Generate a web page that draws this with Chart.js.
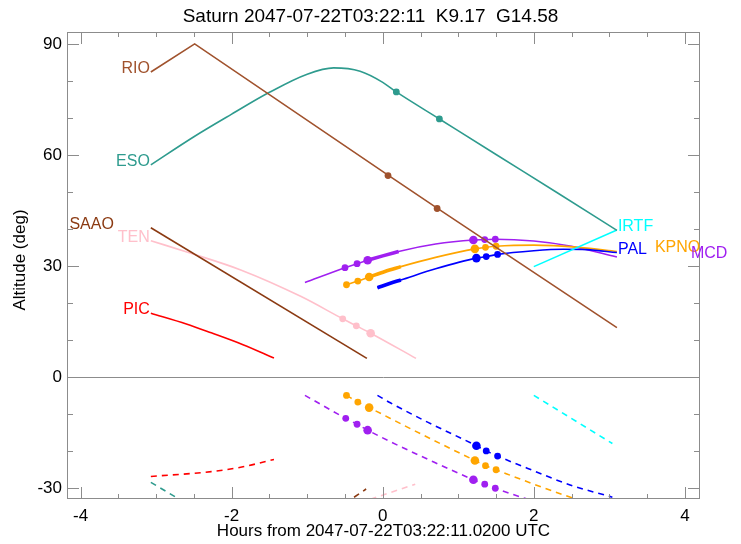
<!DOCTYPE html>
<html>
<head>
<meta charset="utf-8">
<script src="https://cdn.jsdelivr.net/npm/chart.js@4.4.1/dist/chart.umd.min.js"></script>
<style>
  body { margin: 0; background: #fff; }
</style>
</head>
<body>
<canvas id="chart" width="741" height="544"></canvas>
<script>
const titleText = "Saturn 2047-07-22T03:22:11  K9.17  G14.58";
const xTitle = "Hours from 2047-07-22T03:22:11.0200 UTC";
const yTitle = "Altitude (deg)";
const xTickValues = [-4, -2, 0, 2, 4];
const yTickValues = [-30, 0, 30, 60, 90];

// object altitude (solid), sun altitude (dashed), twilight markers
const rioHours = [-3.07, -2.49, 0.07, 0.72, 3.1];
const rioAlt = [82.4, 90.0, 54.5, 45.6, 13.3];
const rioMarkHours = [0.07, 0.72];
const rioMarkAlt = [54.4, 45.5];

const esoHours = [-3.07, -2.5, -2.0, -1.5, -1.0, -0.65, -0.3, 0.0, 0.18, 0.75, 1.5, 2.3, 3.1];
const esoAlt = [57.3, 64.9, 71.0, 76.9, 81.8, 83.5, 82.6, 79.6, 77.0, 69.7, 60.1, 49.9, 39.6];
const esoMarkHours = [0.18, 0.75];
const esoMarkAlt = [77.0, 69.7];
const esoSunHours = [-3.07, -2.6];
const esoSunAlt = [-28.5, -34.2];

const saaoHours = [-3.07, -0.21];
const saaoAlt = [40.3, 5.0];
const saaoSunHours = [-0.5, -0.22];
const saaoSunAlt = [-34.2, -30.3];

const tenHours = [-3.07, -2.54, -1.88, -1.08, -0.53, -0.35, -0.16, 0.44];
const tenAlt = [36.8, 33.4, 28.9, 21.7, 15.7, 13.8, 11.8, 5.0];
const tenMarkHours = [-0.53, -0.35, -0.16];
const tenMarkAlt = [15.7, 13.8, 11.8];
const tenSunHours = [-0.3, 0.43];
const tenSunAlt = [-34.0, -29.0];

const picHours = [-3.07, -2.6, -2.27, -1.85, -1.44];
const picAlt = [17.2, 14.3, 11.9, 8.7, 5.1];
const picSunHours = [-3.07, -2.27, -1.85, -1.44];
const picSunAlt = [-26.9, -25.6, -24.3, -22.3];

const mcdHours = [-1.03, -0.5, -0.34, -0.2, 0.0, 0.21, 0.7, 1.2, 1.35, 1.49, 2.0, 2.5, 3.1];
const mcdAlt = [25.5, 29.5, 30.6, 31.5, 32.7, 33.9, 35.9, 37.0, 37.1, 37.2, 36.7, 35.3, 32.4];
const mcdThickHours = [-0.2, 0.0, 0.21];
const mcdThickAlt = [31.5, 32.7, 33.9];
const mcdMarkHours = [-0.5, -0.34, -0.2, 1.2, 1.35, 1.49];
const mcdMarkAlt = [29.5, 30.6, 31.5, 37.0, 37.1, 37.2];
const mcdSunHours = [-1.03, -0.49, -0.34, -0.2, 0.08, 0.6, 1.2, 1.35, 1.49, 1.88, 2.2];
const mcdSunAlt = [-5.0, -11.2, -12.8, -14.4, -17.3, -22.3, -27.8, -29.0, -30.1, -32.8, -34.6];
const mcdSunMarkHours = [-0.49, -0.34, -0.2, 1.2, 1.35, 1.49];
const mcdSunMarkAlt = [-11.2, -12.8, -14.4, -27.8, -29.0, -30.1];

const kpnoHours = [-0.48, -0.33, -0.18, 0.03, 0.24, 0.7, 1.22, 1.36, 1.5, 2.0, 2.6, 3.1];
const kpnoAlt = [24.9, 25.9, 27.0, 28.5, 29.8, 32.3, 34.6, 35.0, 35.3, 35.6, 35.0, 33.9];
const kpnoThickHours = [-0.18, 0.03, 0.24];
const kpnoThickAlt = [27.0, 28.5, 29.8];
const kpnoMarkHours = [-0.48, -0.33, -0.18, 1.22, 1.36, 1.5];
const kpnoMarkAlt = [24.9, 25.9, 27.0, 34.6, 35.0, 35.3];
const kpnoSunHours = [-0.48, -0.33, -0.18, 0.3, 0.75, 1.22, 1.36, 1.5, 2.0, 2.55, 2.8];
const kpnoSunAlt = [-5.0, -6.8, -8.3, -13.3, -17.9, -22.6, -24.0, -25.1, -29.0, -33.0, -34.8];
const kpnoSunMarkHours = [-0.48, -0.33, -0.18, 1.22, 1.36, 1.5];
const kpnoSunMarkAlt = [-5.0, -6.8, -8.3, -22.6, -24.0, -25.1];

const palHours = [-0.07, 0.1, 0.24, 0.7, 1.24, 1.37, 1.52, 2.0, 2.39, 2.7, 3.1];
const palAlt = [24.1, 25.3, 26.2, 29.2, 32.1, 32.5, 33.1, 34.1, 34.5, 34.4, 33.6];
const palThickHours = [-0.07, 0.1, 0.24];
const palThickAlt = [24.1, 25.3, 26.2];
const palMarkHours = [1.24, 1.37, 1.52];
const palMarkAlt = [32.1, 32.5, 33.1];
const palSunHours = [-0.07, 0.1, 0.6, 1.24, 1.37, 1.52, 1.99, 2.48, 3.04];
const palSunAlt = [-5.0, -7.0, -12.3, -18.6, -20.0, -21.4, -25.3, -29.2, -32.5];
const palSunMarkHours = [1.24, 1.37, 1.52];
const palSunMarkAlt = [-18.6, -20.0, -21.4];

const irtfHours = [2.0, 3.1];
const irtfAlt = [29.8, 39.7];
const irtfSunHours = [2.0, 3.04];
const irtfSunAlt = [-5.0, -18.0];

const pts = (h, a) => h.map((v, i) => ({ x: v, y: a[i] }));
const bigMark = x => (x > -0.25 && x < -0.1) || (x > 1.15 && x < 1.3);

function curve(h, a, color, opts) {
  return Object.assign({
    data: pts(h, a), borderColor: color, backgroundColor: color,
    borderWidth: 1.6, pointRadius: 0, fill: false,
    cubicInterpolationMode: 'monotone'
  }, opts || {});
}
function dashed(h, a, color) {
  return curve(h, a, color, { borderDash: [6, 5] });
}
function thick(h, a, color) {
  return curve(h, a, color, { borderWidth: 3.6 });
}
function marks(h, a, color) {
  return {
    data: pts(h, a), showLine: false, borderColor: color, backgroundColor: color,
    pointBackgroundColor: color, pointBorderWidth: 0,
    pointRadius: c => bigMark(c.raw.x) ? 4.3 : 3.4
  };
}
const straight = { cubicInterpolationMode: 'default', tension: 0 };

const colors = {
  RIO: '#A0522D', ESO: '#2E9B8E', SAAO: '#8B3A12', TEN: '#FFC0CB', PIC: '#FF0000',
  MCD: '#A020F0', KPNO: '#FFA500', PAL: '#0000FF', IRTF: '#00FFFF'
};

// site name labels: left side at first point, right side at last point
const siteLabels = [
  { name: 'RIO', h: rioHours, a: rioAlt, side: 'left', dx: 0 },
  { name: 'ESO', h: esoHours, a: esoAlt, side: 'left', dx: 0 },
  { name: 'TEN', h: tenHours, a: tenAlt, side: 'left', dx: 0 },
  { name: 'PIC', h: picHours, a: picAlt, side: 'left', dx: 0 },
  { name: 'SAAO', h: saaoHours, a: saaoAlt, side: 'left', dx: -36 },
  { name: 'IRTF', h: irtfHours, a: irtfAlt, side: 'right', dx: 0 },
  { name: 'PAL', h: palHours, a: palAlt, side: 'right', dx: 0 },
  { name: 'KPNO', h: kpnoHours, a: kpnoAlt, side: 'right', dx: 37 },
  { name: 'MCD', h: mcdHours, a: mcdAlt, side: 'right', dx: 73 }
];

const datasets = [
  curve(rioHours, rioAlt, colors.RIO, straight),
  marks(rioMarkHours, rioMarkAlt, colors.RIO),
  curve(esoHours, esoAlt, colors.ESO),
  marks(esoMarkHours, esoMarkAlt, colors.ESO),
  dashed(esoSunHours, esoSunAlt, colors.ESO),
  curve(saaoHours, saaoAlt, colors.SAAO, straight),
  dashed(saaoSunHours, saaoSunAlt, colors.SAAO),
  curve(tenHours, tenAlt, colors.TEN),
  marks(tenMarkHours, tenMarkAlt, colors.TEN),
  dashed(tenSunHours, tenSunAlt, colors.TEN),
  curve(picHours, picAlt, colors.PIC),
  dashed(picSunHours, picSunAlt, colors.PIC),
  curve(irtfHours, irtfAlt, colors.IRTF, straight),
  dashed(irtfSunHours, irtfSunAlt, colors.IRTF),
  curve(palHours, palAlt, colors.PAL),
  thick(palThickHours, palThickAlt, colors.PAL),
  marks(palMarkHours, palMarkAlt, colors.PAL),
  dashed(palSunHours, palSunAlt, colors.PAL),
  marks(palSunMarkHours, palSunMarkAlt, colors.PAL),
  curve(kpnoHours, kpnoAlt, colors.KPNO),
  thick(kpnoThickHours, kpnoThickAlt, colors.KPNO),
  marks(kpnoMarkHours, kpnoMarkAlt, colors.KPNO),
  dashed(kpnoSunHours, kpnoSunAlt, colors.KPNO),
  marks(kpnoSunMarkHours, kpnoSunMarkAlt, colors.KPNO),
  curve(mcdHours, mcdAlt, colors.MCD),
  thick(mcdThickHours, mcdThickAlt, colors.MCD),
  marks(mcdMarkHours, mcdMarkAlt, colors.MCD),
  dashed(mcdSunHours, mcdSunAlt, colors.MCD),
  marks(mcdSunMarkHours, mcdSunMarkAlt, colors.MCD)
];

const FONT = '"Liberation Sans", Arial, Helvetica, sans-serif';
const AXIS = '#8c8c8c';

const decor = {
  id: 'decor',
  beforeDatasetsDraw(chart) {
    const { ctx, chartArea: a, scales: { y } } = chart;
    const y0 = Math.round(y.getPixelForValue(0)) + 0.5;
    ctx.save();
    ctx.strokeStyle = AXIS;
    ctx.lineWidth = 1;
    ctx.beginPath();
    ctx.moveTo(a.left, y0);
    ctx.lineTo(a.right, y0);
    ctx.stroke();
    ctx.restore();
  },
  afterDatasetsDraw(chart) {
    const { ctx, chartArea: a, scales: { x, y } } = chart;
    ctx.save();
    ctx.strokeStyle = AXIS;
    ctx.lineWidth = 1;
    ctx.strokeRect(a.left + 0.5, a.top + 0.5, a.right - a.left - 1, a.bottom - a.top - 1);

    // tick marks inside the frame
    ctx.beginPath();
    for (let v = -4; v <= 4.001; v += 0.5) {
      const px = Math.round(x.getPixelForValue(v)) + 0.5;
      const len = Number.isInteger(v / 2) ? 12 : 5;
      ctx.moveTo(px, a.bottom); ctx.lineTo(px, a.bottom - len);
      ctx.moveTo(px, a.top); ctx.lineTo(px, a.top + len);
    }
    for (let v = -30; v <= 90; v += 10) {
      const py = Math.round(y.getPixelForValue(v)) + 0.5;
      const len = v % 30 === 0 ? 12 : 6;
      ctx.moveTo(a.left, py); ctx.lineTo(a.left + len, py);
      ctx.moveTo(a.right, py); ctx.lineTo(a.right - len, py);
    }
    ctx.stroke();

    // titles
    ctx.fillStyle = '#000';
    ctx.textAlign = 'center';
    ctx.textBaseline = 'middle';
    ctx.font = '19px ' + FONT;
    ctx.fillText(titleText, chart.width / 2, 17);
    ctx.font = '17px ' + FONT;
    ctx.fillText(xTitle, (a.left + a.right) / 2, 531);
    ctx.save();
    ctx.translate(20, 260);
    ctx.rotate(-Math.PI / 2);
    ctx.fillText(yTitle, 0, 0);
    ctx.restore();

    // site labels
    ctx.font = '16px ' + FONT;
    ctx.textBaseline = 'alphabetic';
    siteLabels.forEach(s => {
      const i = s.side === 'left' ? 0 : s.h.length - 1;
      const px = x.getPixelForValue(s.h[i]);
      const py = y.getPixelForValue(s.a[i]);
      ctx.fillStyle = colors[s.name];
      ctx.textAlign = s.side === 'left' ? 'right' : 'left';
      ctx.fillText(s.name, px + (s.side === 'left' ? -1 : 1) + s.dx, py + 1);
    });
    ctx.restore();
  }
};

new Chart(document.getElementById('chart'), {
  type: 'line',
  data: { datasets },
  options: {
    responsive: false,
    animation: false,
    events: [],
    layout: { padding: { left: 0, right: 41, top: 32, bottom: 0 } },
    plugins: { legend: { display: false }, tooltip: { enabled: false }, title: { display: false } },
    scales: {
      x: {
        type: 'linear', min: -4.18, max: 4.2,
        grid: { display: false, drawTicks: false },
        border: { display: false },
        afterBuildTicks: s => { s.ticks = xTickValues.map(v => ({ value: v })); },
        afterFit: s => { s.height = 45; },
        ticks: { color: '#000', padding: 7, maxRotation: 0, font: { size: 17, family: FONT } }
      },
      y: {
        type: 'linear', min: -33, max: 93.2,
        grid: { display: false, drawTicks: false },
        border: { display: false },
        afterBuildTicks: s => { s.ticks = yTickValues.map(v => ({ value: v })); },
        afterFit: s => { s.width = 67; },
        ticks: { color: '#000', padding: 5, font: { size: 17, family: FONT } }
      }
    }
  },
  plugins: [decor]
});
</script>
</body>
</html>
